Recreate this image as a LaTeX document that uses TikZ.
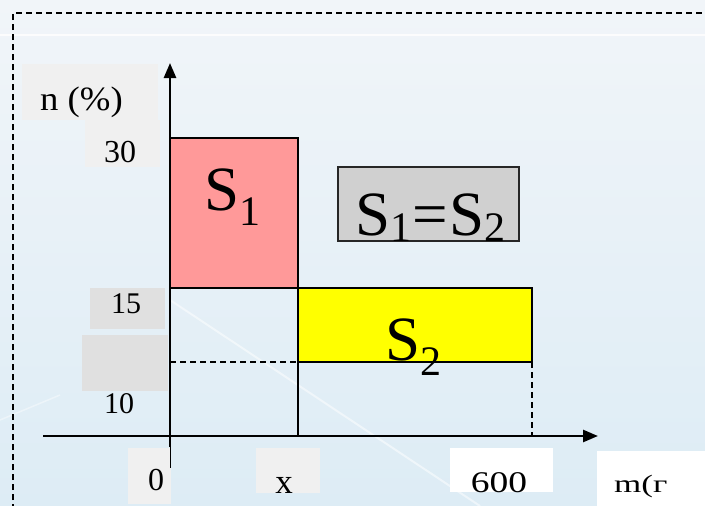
\documentclass[tikz,border=0pt]{standalone}
\usepackage{fontspec}
\setmainfont{Liberation Serif}
\usetikzlibrary{arrows.meta}
\definecolor{bgtop}{RGB}{241,245,249}
\definecolor{bgbot}{RGB}{221,236,245}
\definecolor{boxlight}{RGB}{240,240,240}
\definecolor{boxdark}{RGB}{224,224,224}
\definecolor{pinkfill}{RGB}{255,153,153}
\definecolor{yellowfill}{RGB}{255,255,0}
\definecolor{grayfill}{RGB}{208,208,208}
\newcommand{\fs}[1]{\fontsize{#1}{#1}\selectfont}
\newcommand{\Sub}[2]{S\raisebox{-#2pt}{\fs{42}#1}}
\begin{document}
\begin{tikzpicture}[x=1pt,y=-1pt,
  lbl/.style={inner sep=0pt,anchor=base},
  lblw/.style={inner sep=0pt,anchor=base west},
  axisline/.style={line width=2.6pt,-{Triangle[length=15pt,width=12pt]}},
  guide/.style={line width=1.8pt,dash pattern=on 6pt off 4pt},
  frame/.style={line width=1.3pt,dash pattern=on 6pt off 4pt},
  area/.style={draw=black,line width=1.4pt}]
\useasboundingbox (0,0) rectangle (705,506);
% background
\shade[top color=bgtop,bottom color=bgbot] (0,0) rectangle (705,506);
\draw[white,line width=2pt,opacity=0.8] (0,35) -- (705,35);
\draw[white,line width=2pt,opacity=0.5] (170,300) -- (480,506);
\draw[white,line width=1.5pt,opacity=0.4] (0,420) -- (60,395);
\draw[frame] (13,520) -- (13,13) -- (720,13);
% label boxes
\fill[boxlight] (22,64) rectangle (158,120);
\fill[boxlight] (85,120) rectangle (160,167);
\fill[boxdark] (90,288) rectangle (165,329);
\fill[boxdark] (82,335) rectangle (168,391);
\fill[boxlight] (128,448) rectangle (171,504);
\fill[boxlight] (256,448) rectangle (320,493);
\fill[white] (450,448) rectangle (553,492);
\fill[white] (597,451) rectangle (705,506);
% areas
\draw[area,fill=pinkfill] (170,138) rectangle (298,288);
\draw[area,fill=yellowfill] (298,288) rectangle (532,362);
\draw[area,fill=grayfill,draw=black!85] (338,167) rectangle (519,241);
% guides
\coordinate (xm) at (298,436);
\coordinate (ym) at (170,362);
\coordinate (x6) at (532,436);
\draw[line width=1.4pt] (298,288) -- (xm);
\draw[guide] (ym) -- (298,362);
\draw[guide] (532,362) -- (x6);
% axes
\coordinate (O) at (170,436);
\coordinate (xs) at (43,436);
\coordinate (xe) at (598,436);
\coordinate (ys) at (170,447);
\coordinate (ye) at (170,63);
\draw[axisline] (xs) -- (xe);
\draw[axisline] (ys) -- (ye);
\draw[line width=0.8pt] (170.5,447) -- (170.5,468);
% texts
\node[lblw] (ny) at (40,110) {\fs{34}\scalebox{1.08}[1]{n (\%)}};
\node[lbl] (t30) at (120,162) {\fs{32}30};
\node[lbl] (t15) at (126,313) {\fs{30}15};
\node[lbl] (t10) at (119,413) {\fs{30}10};
\node[lbl] (t0) at (156,490) {\fs{32}0};
\node[lbl] (tx) at (284,493) {\fs{35}x};
\node[lbl] (t600) at (499,492) {\fs{30}\scalebox{1.25}[1]{600}};
\node[lblw] (tm) at (614,492) {\fs{25}\scalebox{1.4}[1]{m(г}};
\node[lblw] (s1) at (204,210) {\fs{63}\Sub{1}{15}};
\node[lblw] (seq) at (355,235) {\fs{63}\Sub{1}{6}\kern1pt=\kern2pt\Sub{2}{6}};
\node[lblw] (s2) at (385,360) {\fs{63}\Sub{2}{15}};
\end{tikzpicture}
\end{document}
